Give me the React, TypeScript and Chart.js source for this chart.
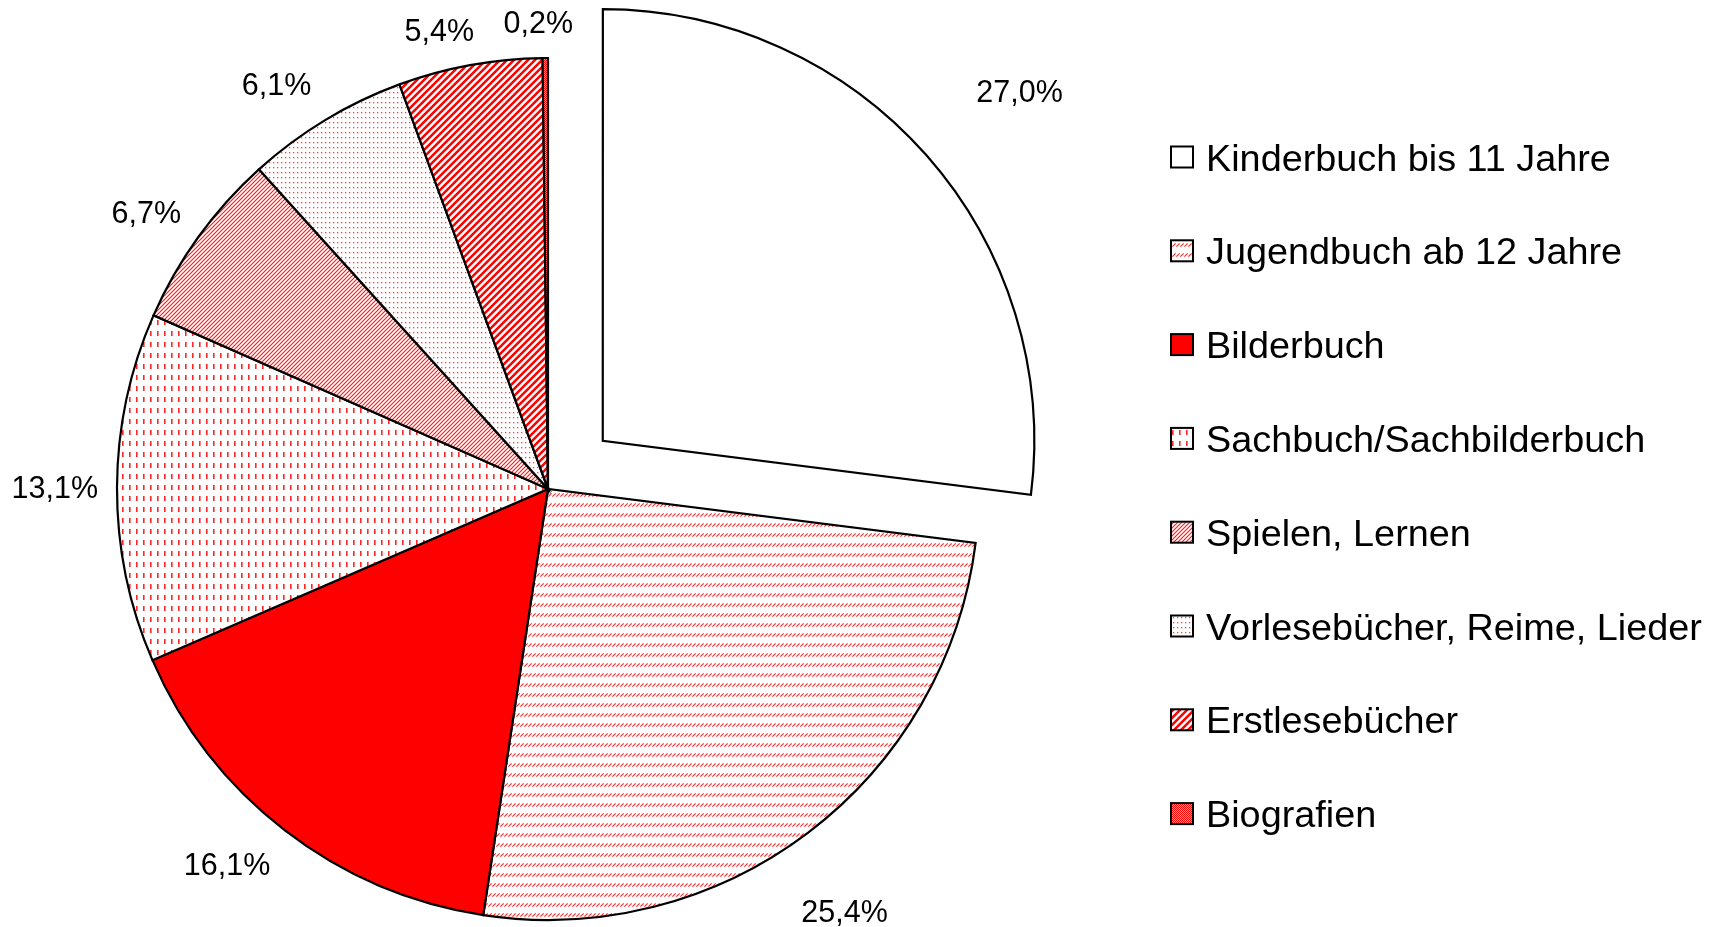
import { useEffect, useRef } from 'react';
import { Chart, registerables } from 'chart.js';

Chart.register(...registerables);

// ---- data ----
const CATEGORIES = [
  'Kinderbuch bis 11 Jahre',
  'Jugendbuch ab 12 Jahre',
  'Bilderbuch',
  'Sachbuch/Sachbilderbuch',
  'Spielen, Lernen',
  'Vorlesebücher, Reime, Lieder',
  'Erstlesebücher',
  'Biografien',
];
const SHARES = [27.0, 25.4, 16.1, 13.1, 6.7, 6.1, 5.4, 0.2];

// ---- styles ----
const FILL_KINDS = ['none', 'dashUpDiag', 'solid', 'dashVert', 'ltUpDiag', 'dots', 'wdUpDiag', 'smCheck'];
const EXPLODE_PX = [292, 0, 0, 0, 0, 0, 0, 0];
const LABEL_NUDGE: [number, number][] = [
  [36, -37],
  [-18, 47],
  [-3, 2],
  [0, 0],
  [-2, 0],
  [-4, -3],
  [-2, 0],
  [-6, 0],
];

const FONT_FAMILY = '"Liberation Sans", Arial, Helvetica, sans-serif';
const LABEL_FONT_PX = 30.5;
const LEGEND_FONT_PX = 37.8;
const PIE_RADIUS = 431;

const fmt = (v: number) => v.toFixed(1).replace('.', ',') + '%';
const clamp = (v: number) => Math.max(-1, Math.min(1, v));

function makeFill(kind: string): CanvasPattern | string {
  if (kind === 'none') return '#ffffff';
  if (kind === 'solid') return '#ff0000';
  const c = document.createElement('canvas');
  const g = c.getContext('2d')!;
  const init = (w: number, h: number, bg = '#ffffff') => {
    c.width = w;
    c.height = h;
    g.fillStyle = bg;
    g.fillRect(0, 0, w, h);
  };
  const diag = (s: number) => {
    g.beginPath();
    g.moveTo(0, s);
    g.lineTo(s, 0);
    g.moveTo(-s / 2, s / 2);
    g.lineTo(s / 2, -s / 2);
    g.moveTo(s / 2, s * 1.5);
    g.lineTo(s * 1.5, s / 2);
    g.stroke();
  };
  switch (kind) {
    case 'dashUpDiag':
      init(4, 10);
      g.strokeStyle = 'rgba(255,0,0,0.85)';
      g.lineWidth = 1.1;
      g.beginPath();
      g.moveTo(0.4, 6.6);
      g.lineTo(3.6, 3.4);
      g.stroke();
      break;
    case 'dashVert':
      init(7, 11);
      g.fillStyle = 'rgba(255,0,0,0.85)';
      g.fillRect(3, 1, 1.6, 5);
      break;
    case 'ltUpDiag':
      init(4, 4);
      g.strokeStyle = 'rgba(255,0,0,0.9)';
      g.lineWidth = 1.15;
      diag(4);
      break;
    case 'dots':
      init(4, 5);
      g.fillStyle = 'rgba(255,0,0,0.75)';
      g.fillRect(1, 2, 1.3, 1.3);
      break;
    case 'wdUpDiag':
      init(7, 7);
      g.strokeStyle = '#ff0000';
      g.lineWidth = 2.5;
      diag(7);
      break;
    case 'smCheck':
      init(2, 2, '#ff9a9a');
      g.fillStyle = '#ff0000';
      g.fillRect(0, 0, 1, 1);
      g.fillRect(1, 1, 1, 1);
      break;
    default:
      return '#ffffff';
  }
  return g.createPattern(c, 'repeat')!;
}

const sliceLabels = {
  id: 'sliceLabels',
  afterDatasetsDraw(chart: any) {
    const ctx = chart.ctx as CanvasRenderingContext2D;
    const meta = chart.getDatasetMeta(0);
    ctx.save();
    ctx.font = `${LABEL_FONT_PX}px ${FONT_FAMILY}`;
    ctx.fillStyle = '#000000';
    ctx.textAlign = 'center';
    ctx.textBaseline = 'alphabetic';
    const capH = LABEL_FONT_PX * 0.716;
    const hh = 16.5;
    meta.data.forEach((arc: any, i: number) => {
      const p = arc.getProps(['x', 'y', 'startAngle', 'endAngle', 'outerRadius'], true);
      const mid = (p.startAngle + p.endAngle) / 2;
      const dx = Math.cos(mid);
      const dy = Math.sin(mid);
      const off = (arc.options.offset || 0) / 4;
      const cx = p.x + dx * off;
      const cy = p.y + dy * off;
      const text = fmt(chart.data.datasets[0].data[i]);
      const hw = ctx.measureText(text).width / 2;
      const r = p.outerRadius + 19;
      const nudge = LABEL_NUDGE[i] || [0, 0];
      const lx = cx + dx * r + hw * clamp(dx * 4) + nudge[0];
      const ly = cy + dy * r + hh * clamp(dy * 1.4) + nudge[1];
      ctx.fillText(text, lx, ly + capH / 2);
    });
    ctx.restore();
  },
};

const sideLegend = {
  id: 'sideLegend',
  afterDraw(chart: any) {
    const ctx = chart.ctx as CanvasRenderingContext2D;
    const labels: string[] = chart.data.labels;
    const fills = chart.data.datasets[0].backgroundColor;
    const boxX = 1171;
    const boxW = 22;
    const boxH = 21;
    const textX = 1206;
    const firstMid = 157;
    const step = 93.8;
    const capH = LEGEND_FONT_PX * 0.716;
    ctx.save();
    ctx.font = `${LEGEND_FONT_PX}px ${FONT_FAMILY}`;
    ctx.textAlign = 'left';
    ctx.textBaseline = 'alphabetic';
    labels.forEach((lab, i) => {
      const cy = firstMid + step * i;
      ctx.fillStyle = fills[i];
      ctx.fillRect(boxX, cy - boxH / 2, boxW, boxH);
      ctx.strokeStyle = '#000000';
      ctx.lineWidth = 2;
      ctx.strokeRect(boxX, cy - boxH / 2, boxW, boxH);
      ctx.fillStyle = '#000000';
      ctx.fillText(lab, textX, cy + capH / 2);
    });
    ctx.restore();
  },
};

export default function App() {
  const ref = useRef<HTMLCanvasElement | null>(null);
  useEffect(() => {
    if (!ref.current) return;
    const fills = FILL_KINDS.map(makeFill);
    const chart = new Chart(ref.current, {
      type: 'pie',
      data: {
        labels: CATEGORIES,
        datasets: [
          {
            data: SHARES,
            backgroundColor: fills as any,
            borderColor: '#000000',
            borderWidth: 2.2,
            borderJoinStyle: 'miter',
            offset: EXPLODE_PX,
            radius: PIE_RADIUS,
          } as any,
        ],
      },
      options: {
        animation: false,
        responsive: false,
        devicePixelRatio: 1,
        events: [],
        layout: { padding: { left: 0, right: 627, top: 51, bottom: 0 } },
        plugins: {
          legend: { display: false },
          tooltip: { enabled: false },
          title: { display: false },
        },
      },
      plugins: [sliceLabels, sideLegend],
    });
    return () => chart.destroy();
  }, []);
  return (
    <div style={{ position: 'fixed', left: 0, top: 0, width: 1723, height: 927, background: '#ffffff' }}>
      <canvas ref={ref} width={1723} height={927} style={{ width: 1723, height: 927, display: 'block' }} />
    </div>
  );
}
